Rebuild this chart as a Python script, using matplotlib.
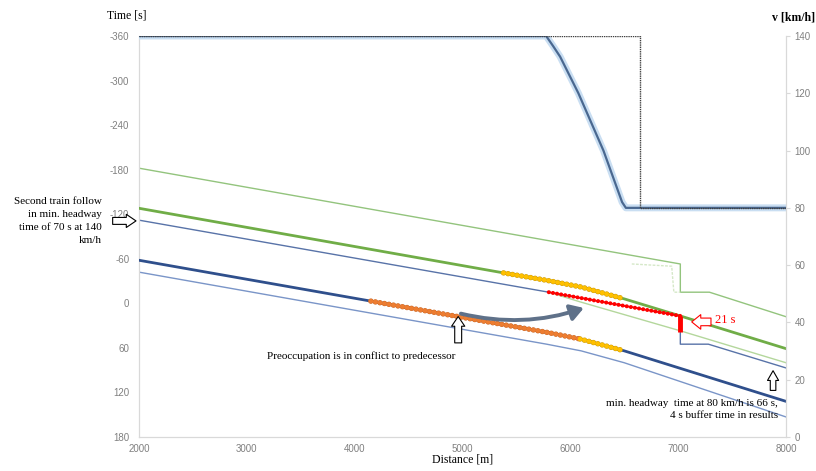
import numpy as np
import matplotlib
matplotlib.use("Agg")
import matplotlib.pyplot as plt
from matplotlib.patches import FancyArrowPatch

# dot spacing of the marker runs is given in points, not in line widths
plt.rcParams['lines.scale_dashes'] = False
plt.rcParams['font.family'] = ['Liberation Serif', 'DejaVu Serif']

dist_ticks = [2000, 3000, 4000, 5000, 6000, 7000, 8000]
time_ticks = [-360, -300, -240, -180, -120, -60, 0, 60, 120, 180]
speed_ticks = [0, 20, 40, 60, 80, 100, 120, 140]

# first train (blue): running line and end of blocking
blue_run_x = [2000, 4150, 5780, 6090, 6500, 8000]
blue_run_t = [-58, -3, 39, 48, 64, 132]
blue_clear_x = [2000, 5780, 6100, 6500, 8000]
blue_clear_t = [-42, 55, 64, 80, 153]
blue_block_x = [2000, 5800, 7020, 7020, 7280, 8000]
blue_block_t = [-112, -15, 17, 55, 55, 87]

# second train (green): running line and blocking boundaries
green_run_x = [2000, 5380, 5780, 6100, 6500, 7020, 8000]
green_run_t = [-128, -41, -31, -22, -6, 17, 61]
green_block_x = [2000, 7020, 7020, 7290, 8000]
green_block_t = [-182, -53, -15, -15, 18]
green_alt_x = [6570, 6940, 6960, 7020]
green_alt_t = [-53, -50, -15, -15]
green_clear_x = [5800, 6090, 7020, 8000]
green_clear_t = [-15, -2, 37, 80]

# conflict: 21 s overlap at the signal
conflict_x = 7020
conflict_t = [17, 38]

# speed profile and line speed
speed_x = [2000, 5776, 5840, 5905, 6075, 6307, 6480, 6515, 8000]
speed_v = [140, 140, 136.5, 132.8, 120, 100, 82, 80, 80]
limit_x = [2000, 6650, 6650, 8000]
limit_v = [140, 140, 80, 80]

W, H = 816, 471
fig = plt.figure(figsize=(W / 100, H / 100), dpi=100)
ax = fig.add_axes([139 / W, 34 / H, 647 / W, 401 / H])
ax2 = ax.twinx()

grey = '#d9d9d9'
tick_grey = '#808080'


def dot_run(x, t, color, edge, size, period, z):
    on = 0.1
    style = (0, (on, period - on))
    if edge:
        ax.plot(x, t, color=edge, lw=size + 0.6, ls=style,
                dash_capstyle='round', zorder=z)
    ax.plot(x, t, color=color, lw=size, ls=style,
            dash_capstyle='round', zorder=z + 0.1)


# time-distance lines
ax.plot(green_block_x, green_block_t, color='#93c47d', lw=1.0, zorder=2)
ax.plot(green_alt_x, green_alt_t, color='#d5e8c8', lw=1.0, ls=(0, (2, 1)), zorder=2)
ax.plot(green_clear_x, green_clear_t, color='#b4d79c', lw=1.0, zorder=2)
ax.plot(green_run_x, green_run_t, color='#70ad47', lw=2.0, zorder=3)
ax.plot(blue_block_x, blue_block_t, color='#5873a8', lw=1.0, zorder=2)
ax.plot(blue_clear_x, blue_clear_t, color='#7a95c8', lw=1.0, zorder=2)
ax.plot(blue_run_x, blue_run_t, color='#2f4f8c', lw=2.0, zorder=3)

# occupation markers
dot_run(blue_run_x[1:4], blue_run_t[1:4], '#ed7d31', '#c96a2c', 3.3, 3.3, 5)
dot_run(blue_run_x[3:5], blue_run_t[3:5], '#ffc000', '#c99a10', 3.3, 3.3, 5)
dot_run(green_run_x[1:5], green_run_t[1:5], '#ffc000', '#c99a10', 3.3, 3.3, 5)
ax.plot(blue_block_x[1:3], blue_block_t[1:3], color='#ff0000', lw=1.0, zorder=5)
dot_run(blue_block_x[1:3], blue_block_t[1:3], '#ff0000', None, 2.9, 3.0, 5)
ax.plot([conflict_x, conflict_x], conflict_t, color='#ff0000', lw=3.5,
        solid_capstyle='butt', zorder=6)

# speed over distance
ax2.plot(speed_x, speed_v, color='#c9def2', lw=5.0, solid_joinstyle='round', zorder=2)
ax2.plot(speed_x, speed_v, color='#4a6890', lw=1.6, solid_joinstyle='round', zorder=3)
ax2.plot(limit_x, limit_v, color='#404040', lw=1.0, ls=(0, (1, 0.6)), zorder=4)

ax.set_xlim(2000, 8000)
ax.set_ylim(180, -360)
ax2.set_ylim(0, 140)
ax.set_xticks(dist_ticks)
ax.set_xticklabels([str(d) for d in dist_ticks])
ax.set_yticks(time_ticks)
ax.set_yticklabels([str(t) for t in time_ticks])
ax2.set_yticks(speed_ticks)
ax2.set_yticklabels([str(v) for v in speed_ticks])

for a in (ax, ax2):
    for side, sp in a.spines.items():
        sp.set_color(grey)
        sp.set_linewidth(0.9)
    a.spines['top'].set_visible(False)
ax.spines['right'].set_visible(False)
ax2.spines['left'].set_visible(False)
ax2.spines['bottom'].set_visible(False)

ax.tick_params(axis='x', length=0, pad=5, colors=tick_grey)
ax.tick_params(axis='y', length=0, pad=7, colors=tick_grey)
ax2.tick_params(axis='y', length=3, width=0.8, color=grey, pad=3, labelcolor=tick_grey)
for lab in ax.get_xticklabels() + ax.get_yticklabels() + ax2.get_yticklabels():
    lab.set_fontfamily('Liberation Sans')
    lab.set_fontsize(7)

# axis titles
fig.text(107 / W, 1 - 16 / H, 'Time [s]', fontsize=8.5, va='center', ha='left')
fig.text(815 / W, 1 - 17 / H, 'v [km/h]', fontsize=8.5, va='center', ha='right',
         fontweight='bold')
fig.text(463 / W, 1 - 460 / H, 'Distance [m]', fontsize=8.5, va='center', ha='center')

# annotations
fig.text(102 / W, 1 - 221 / H,
         'Second train follow\nin min. headway\ntime of 70 s at 140\nkm/h',
         fontsize=8, ha='right', va='center', multialignment='right', linespacing=1.55)
ax.text(3187, 71, 'Preoccupation is in conflict to predecessor', fontsize=8,
        ha='left', va='center', zorder=7)
ax.text(7928, 143, 'min. headway  time at 80 km/h is 66 s,\n4 s buffer time in results',
        fontsize=8, ha='right', va='center', multialignment='right',
        linespacing=1.45, zorder=7)
ax.text(7340, 23, '21 s', fontsize=9, color='#ff0000', ha='left', va='center', zorder=7)


def hollow_arrow(tail, head, style, edge='black'):
    arr = FancyArrowPatch(tail, head, arrowstyle=style, mutation_scale=1,
                          facecolor='white', edgecolor=edge, lw=0.8,
                          clip_on=False, zorder=8)
    ax.add_patch(arr)


hollow_arrow((1730, -111), (1998, -111), 'simple,head_length=7,head_width=9.5,tail_width=5')
hollow_arrow((4960, 57), (4960, 14), 'simple,head_length=7,head_width=9.5,tail_width=5')
hollow_arrow((7880, 121), (7880, 87), 'simple,head_length=7,head_width=8,tail_width=4')
hollow_arrow((7330, 25), (7100, 25), 'simple,head_length=6.5,head_width=10.5,tail_width=5.5',
             edge='#ff0000')

ax.annotate('', xy=(6150, 5), xytext=(4960, 13),
            arrowprops=dict(arrowstyle='-|>,head_length=0.65,head_width=0.4',
                            connectionstyle='arc3,rad=0.15', color='#5f7189',
                            lw=2.8, mutation_scale=12),
            zorder=7)

fig.savefig('out.png', dpi=100)
